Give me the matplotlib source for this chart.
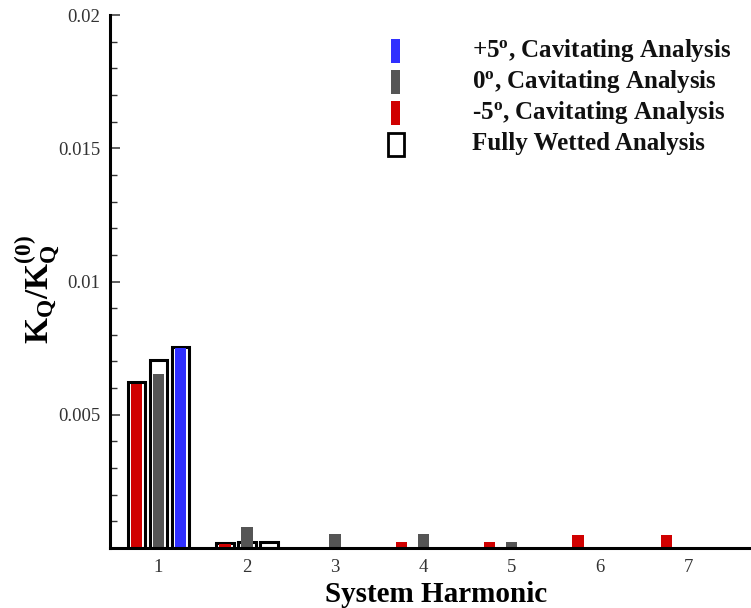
import numpy as np
import matplotlib
matplotlib.use("Agg")
import matplotlib.pyplot as plt
from matplotlib.patches import Rectangle
from matplotlib.ticker import FixedLocator, FormatStrFormatter

# values
harmonics = np.array([1, 2, 3, 4, 5, 6, 7])
cav_minus5 = [0.00616, 0.00015, 0.0, 0.000225, 0.000225, 0.00049, 0.00049]
cav_zero = [0.00652, 0.0008, 0.000525, 0.000525, 0.000225, 0.0, 0.0]
cav_plus5 = [0.00750, 0.0, 0.0, 0.0, 0.0, 0.0, 0.0]
wet_minus5 = [0.00622, 0.00019, 0.0, 0.0, 0.0, 0.0, 0.0]
wet_zero = [0.00704, 0.00021, 0.0, 0.0, 0.0, 0.0, 0.0]
wet_plus5 = [0.00756, 0.00024, 0.0, 0.0, 0.0, 0.0, 0.0]

labels = [r'+5$^{\mathbf{o}}$, Cavitating Analysis',
          r'0$^{\mathbf{o}}$, Cavitating Analysis',
          r'-5$^{\mathbf{o}}$, Cavitating Analysis',
          'Fully Wetted Analysis']

red = '#d00000'
grey = '#555555'
blue = '#3030ff'

plt.rcParams['font.family'] = 'Liberation Serif'
plt.rcParams['mathtext.fontset'] = 'custom'
plt.rcParams['mathtext.rm'] = 'Liberation Serif:bold'
plt.rcParams['mathtext.bf'] = 'Liberation Serif:bold'
plt.rcParams['mathtext.it'] = 'Liberation Serif:bold'

fig = plt.figure(figsize=(7.51, 6.08), dpi=100)
ax = fig.add_axes([0.1465, 0.0987, 0.8535, 0.8766])

offsets = [-0.25, 0.0, 0.25]
wide = 0.20
narrow = 0.13

# fully wetted boxes behind
for off, vals in zip(offsets, [wet_minus5, wet_zero, wet_plus5]):
    vals = np.array(vals)
    m = vals > 0
    ax.bar(harmonics[m] + off, vals[m], width=wide, color='white',
           edgecolor='black', linewidth=2.2, zorder=2)

# cavitating bars in front
for off, vals, c in zip(offsets, [cav_minus5, cav_zero, cav_plus5], [red, grey, blue]):
    vals = np.array(vals)
    m = vals > 0
    ax.bar(harmonics[m] + off, vals[m], width=narrow, color=c,
           linewidth=0, zorder=3)

ax.set_xlim(0.45, 7.71)
ax.set_ylim(0, 0.02)
ax.set_xticks(harmonics)
ax.yaxis.set_major_locator(FixedLocator([0.005, 0.01, 0.015, 0.02]))
ax.yaxis.set_minor_locator(FixedLocator([i * 0.001 for i in range(1, 20) if i % 5]))
ax.yaxis.set_major_formatter(FormatStrFormatter('%g'))
ax.tick_params(axis='y', which='major', direction='in', length=7, width=1.1,
               labelsize=13.5, pad=7, colors='#333333', labelcolor='#333333')
ax.tick_params(axis='y', which='minor', direction='in', length=5, width=1.0,
               colors='#333333')
ax.tick_params(axis='x', length=0, labelsize=13.5, pad=8, labelcolor='#333333')

for s in ['top', 'right']:
    ax.spines[s].set_visible(False)
for s in ['left', 'bottom']:
    ax.spines[s].set_linewidth(2.2)
    ax.spines[s].set_zorder(5)

ax.set_xlabel('System Harmonic', fontsize=21, fontweight='bold')
ax.xaxis.set_label_coords(0.508, -0.061)
ax.set_ylabel(r'$\mathbf{K_Q/K_Q^{(0)}}$', fontsize=24)
ax.yaxis.set_label_coords(-0.075, 0.484)

# legend drawn by hand
row_y = [0.933, 0.875, 0.817, 0.758]
for i, (lab, c) in enumerate(zip(labels, [blue, grey, red, None])):
    if c is None:
        ax.add_patch(Rectangle((0.433, row_y[i] - 0.023), 0.025, 0.044,
                               transform=ax.transAxes, facecolor='white',
                               edgecolor='black', linewidth=2.0, clip_on=False))
    else:
        ax.add_patch(Rectangle((0.438, row_y[i] - 0.0225), 0.0145, 0.045,
                               transform=ax.transAxes, facecolor=c,
                               linewidth=0, clip_on=False))
    ax.text(0.564, row_y[i], lab, transform=ax.transAxes, fontsize=18,
            fontweight='bold', va='center', ha='left', color='#111111')

fig.savefig('out.png', dpi=100)
